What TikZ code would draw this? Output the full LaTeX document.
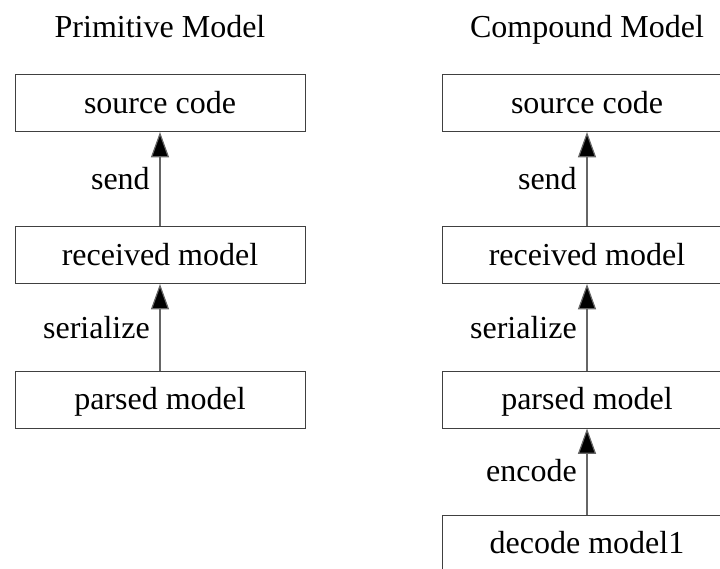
\documentclass[tikz,border=0pt]{standalone}
\usepackage{fontspec}
\setmainfont{Liberation Serif}
\usetikzlibrary{arrows.meta}
\begin{document}
\begin{tikzpicture}[x=0.75pt,y=-0.75pt,
  box/.style={draw=black!75, line width=0.75pt, minimum width=217.5pt, minimum height=42.75pt,
    inner sep=0pt, text height=17pt, text depth=2pt, font=\fontsize{24}{28}\selectfont},
  title/.style={anchor=base, inner sep=0pt, font=\fontsize{24}{28}\selectfont},
  lbl/.style={anchor=base east, inner sep=0pt, font=\fontsize{24}{28}\selectfont},
  conn/.style={draw=black!60, line width=0.9pt, -{Triangle[length=19pt,width=13.5pt,fill=black]}}]
\useasboundingbox (0,0) rectangle (720,568);
% titles
\node[title] (t1) at (160,37) {Primitive Model};
\node[title] (t2) at (587,37) {Compound Model};
% left column
\node[box] (ls) at (160,103) {source code};
\node[box] (lr) at (160,255) {received model};
\node[box] (lp) at (160,399.5) {parsed model};
% right column
\node[box] (rs) at (587,103) {source code};
\node[box] (rr) at (587,255) {received model};
\node[box] (rp) at (587,399.5) {parsed model};
\node[box] (rd) at (587,543.5) {decode model1};
% connectors
\draw[conn] (lr) -- (ls);
\draw[conn] (lp) -- (lr);
\draw[conn] (rr) -- (rs);
\draw[conn] (rp) -- (rr);
\draw[conn] (rd) -- (rp);
% labels
\node[lbl] (l1) at (150,189) {send};
\node[lbl] (l2) at (150,338) {serialize};
\node[lbl] (l3) at (577,189) {send};
\node[lbl] (l4) at (577,338) {serialize};
\node[lbl] (l5) at (577,481) {encode};
\end{tikzpicture}
\end{document}
